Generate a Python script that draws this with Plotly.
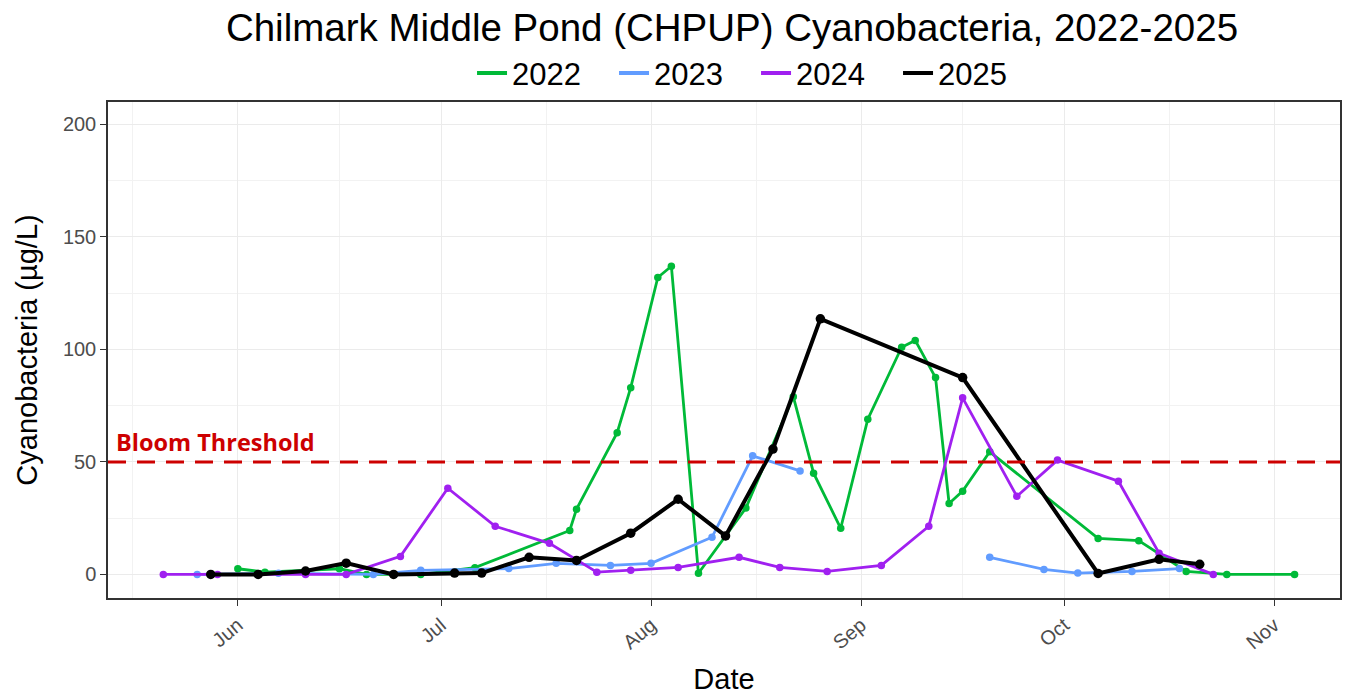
import plotly.graph_objects as go

YEAR = "2025"  # common dummy year so all seasons overlay on one date axis

# ---- data (month-day, value in ug/L) ----
dates_2022 = ["06-01", "06-05", "06-16", "06-20", "06-28", "07-06", "07-20", "07-21",
              "07-27", "07-29", "08-02", "08-04", "08-08", "08-15", "08-22", "08-25",
              "08-29", "09-02", "09-07", "09-09", "09-12", "09-14", "09-16", "09-20",
              "10-06", "10-12", "10-19", "10-25", "11-04"]
vals_2022 = [2.5, 1.0, 2.5, 0.0, 0.0, 3.0, 19.5, 29.0,
             63.0, 83.0, 132.0, 137.0, 0.5, 29.5, 79.0, 45.0,
             20.5, 69.0, 101.0, 104.0, 87.5, 31.5, 37.0, 54.5,
             16.0, 15.0, 1.3, 0.0, 0.0]

dates_2023 = ["05-26", "06-07", "06-21", "06-28", "07-11", "07-18", "07-26", "08-01",
              "08-10", "08-16", "08-23", "09-05", "09-20", "09-28", "10-03", "10-11", "10-18"]
vals_2023 = [0.0, 0.5, 0.0, 1.8, 2.6, 4.9, 4.0, 4.9,
             16.5, 52.7, 46.0, None, 7.6, 2.2, 0.6, 1.3, 2.6]

dates_2024 = ["05-21", "05-29", "06-11", "06-17", "06-25", "07-02", "07-09", "07-17",
              "07-24", "07-29", "08-05", "08-14", "08-20", "08-27", "09-04", "09-11",
              "09-16", "09-24", "09-30", "10-09", "10-15", "10-23"]
vals_2024 = [0.0, 0.0, 0.0, 0.0, 8.0, 38.3, 21.4, 13.8,
             1.0, 1.8, 3.1, 7.6, 3.1, 1.3, 4.0, 21.4,
             78.5, 34.7, 50.8, 41.4, 9.4, 0.0]

dates_2025 = ["05-28", "06-04", "06-11", "06-17", "06-24", "07-03", "07-07", "07-14",
              "07-21", "07-29", "08-05", "08-12", "08-19", "08-26", "09-16", "10-06",
              "10-15", "10-21"]
vals_2025 = [0.0, 0.0, 1.5, 5.0, 0.0, 0.6, 0.6, 7.6,
             6.2, 18.3, 33.4, 17.1, 55.7, 113.6, 87.5, 0.4,
             6.7, 4.5]

series_names = ["2022", "2023", "2024", "2025"]
series_colors = ["#00BA38", "#619CFF", "#A020F0", "#000000"]
BLOOM_THRESHOLD = 50
month_ticks = ["06-01", "07-01", "08-01", "09-01", "10-01", "11-01"]
month_labels = ["Jun", "Jul", "Aug", "Sep", "Oct", "Nov"]
minor_ticks = ["05-16 12:00", "06-16", "07-16 12:00", "08-16 12:00", "09-16", "10-16 12:00"]
y_ticks = [0, 50, 100, 150, 200]
y_minor = [25, 75, 125, 175]
x_range = ["05-12 20:00", "11-10 17:00"]
y_range = [-10.5, 210]


def d(md):
    return f"{YEAR}-{md}"


all_dates = [dates_2022, dates_2023, dates_2024, dates_2025]
all_vals = [vals_2022, vals_2023, vals_2024, vals_2025]

fig = go.Figure()
for name, col, ds, vs in zip(series_names, series_colors, all_dates, all_vals):
    is_main = name == "2025"
    fig.add_trace(go.Scatter(
        x=[d(v) for v in ds], y=vs, mode="lines+markers", name=name,
        line=dict(color=col, width=4 if is_main else 2.8),
        marker=dict(color=col, size=9.5 if is_main else 7.5),
        connectgaps=False, showlegend=False,
    ))
# legend entries (lines only, like the reference)
for name, col in zip(series_names, series_colors):
    fig.add_trace(go.Scatter(x=[None], y=[None], mode="lines", name=name,
                             line=dict(color=col, width=4)))

fig.add_shape(type="line", xref="paper", x0=0, x1=1, yref="y",
              y0=BLOOM_THRESHOLD, y1=BLOOM_THRESHOLD,
              line=dict(color="#CD0000", width=3, dash="18px,11px"), layer="above")
fig.add_annotation(xref="paper", x=0.005, xanchor="left", yref="y", y=BLOOM_THRESHOLD + 9,
                   yanchor="middle", text="<b>Bloom Threshold</b>", showarrow=False,
                   font=dict(family="Open Sans", size=23.5, color="#CD0000"))

axis_common = dict(showline=True, linecolor="#333333", linewidth=1.5, mirror=True,
                   ticks="outside", ticklen=6, tickcolor="#333333", tickwidth=1.3,
                   gridcolor="#EBEBEB", gridwidth=1.3, zeroline=False, automargin=False,
                   tickfont=dict(family="Liberation Sans", size=20, color="#4D4D4D"))

fig.update_layout(
    width=1353, height=695,
    margin=dict(l=108, r=13, t=102, b=97, autoexpand=False),
    paper_bgcolor="white", plot_bgcolor="white",
    title=dict(text="Chilmark Middle Pond (CHPUP) Cyanobacteria, 2022-2025",
               x=0.541, xanchor="center", y=0.961, yanchor="middle",
               font=dict(family="Liberation Sans", size=38.5, color="#000000")),
    legend=dict(orientation="h", x=0.526, xanchor="center", y=1.058, yanchor="middle",
                font=dict(family="Liberation Sans", size=31, color="#000000"),
                entrywidth=97, entrywidthmode="pixels", bgcolor="rgba(0,0,0,0)"),
    xaxis=dict(type="date", range=[d(x_range[0]), d(x_range[1])],
               tickmode="array", tickvals=[d(m) for m in month_ticks], ticktext=month_labels,
               tickangle=-40,
               minor=dict(tickmode="array", tickvals=[d(m) for m in minor_ticks],
                          showgrid=True, gridcolor="#F2F2F2", gridwidth=1, ticks=""),
               title=dict(text="Date", standoff=22,
                          font=dict(family="Liberation Sans", size=29, color="#000000")),
               **axis_common),
    yaxis=dict(range=y_range, tickmode="array", tickvals=y_ticks,
               minor=dict(tickmode="array", tickvals=y_minor, showgrid=True,
                          gridcolor="#F2F2F2", gridwidth=1, ticks=""),
               title=dict(text="Cyanobacteria (µg/L)", standoff=17,
                          font=dict(family="Liberation Sans", size=29, color="#000000")),
               **axis_common),
)

fig.write_html("out.html", config={"displayModeBar": False},
               post_script="document.body.style.margin='0';document.body.style.overflow='hidden';")
